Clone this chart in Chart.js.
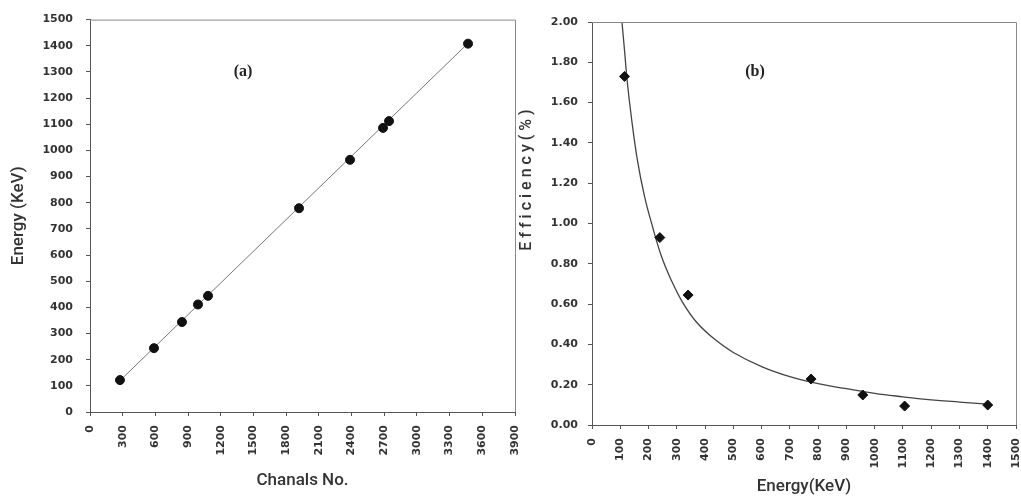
<!DOCTYPE html>
<html><head><meta charset="utf-8">
<script src="https://cdn.jsdelivr.net/npm/chart.js@4.4.1/dist/chart.umd.min.js"></script>
<style>
html,body{margin:0;padding:0;background:#fff;overflow:hidden;width:1021px;height:499px;}
#wa{position:absolute;left:0;top:0;width:530px;height:499px;}
#wb{position:absolute;left:510px;top:0;width:512px;height:499px;}
</style></head><body>
<div id="wa"><canvas id="ca"></canvas></div>
<div id="wb"><canvas id="cb"></canvas></div>
<script>
// ---- data (a): calibration ----
const chanals   = [275, 587, 844, 991, 1083, 1918, 2386, 2689, 2744, 3469];
const energiesA = [122, 244, 344, 411, 444, 779, 964, 1086, 1112, 1408];
const fitA_x = [270, 3470];
const fitA_y = [118, 1410];
// ---- data (b): efficiency ----
const energiesB  = [115, 240, 340, 775, 958, 1106, 1400];
const efficiency = [1.73, 0.93, 0.645, 0.228, 0.149, 0.094, 0.099];
const curveB_x = [106, 115, 125, 140, 160, 185, 213, 245, 280, 320, 370, 430, 500, 600, 700, 800, 900, 1000, 1100, 1200, 1300, 1400];
const curveB_y = [2.00, 1.86, 1.70, 1.52, 1.32, 1.14, 0.99, 0.84, 0.72, 0.61, 0.51, 0.43, 0.36, 0.29, 0.24, 0.205, 0.18, 0.157, 0.14, 0.125, 0.114, 0.104];
// ---- ticks ----
const xTicksA = [0,300,600,900,1200,1500,1800,2100,2400,2700,3000,3300,3600,3900];
const yTicksA = [0,100,200,300,400,500,600,700,800,900,1000,1100,1200,1300,1400,1500];
const xTicksB = [0,100,200,300,400,500,600,700,800,900,1000,1100,1200,1300,1400,1500];
const yTicksB = [0,0.2,0.4,0.6,0.8,1.0,1.2,1.4,1.6,1.8,2.0];
const yTickLabelsB = ['0.00','0.20','0.40','0.60','0.80','1.00','1.20','1.40','1.60','1.80','2.00'];

const tickFont = {family:'DejaVu Sans', size:11, weight:'bold'};
const titleFont = {family:'Roboto', size:17, weight:'500'};
const axisCol = '#555';
const textCol = '#333';

function pts(xs, ys){ return xs.map((x,i)=>({x:x, y:ys[i]})); }
function fixTicks(arr){ return s => { s.ticks = arr.map(v=>({value:v})); }; }
const plain = v => String(v);

const frame = {
  id:'frame',
  afterDraw(chart, args, opts){
    const {ctx, chartArea:a} = chart;
    ctx.save();
    ctx.strokeStyle = '#888'; ctx.lineWidth = 1;
    ctx.beginPath();
    ctx.moveTo(a.left, a.top+0.5); ctx.lineTo(a.right+0.5, a.top+0.5); ctx.lineTo(a.right+0.5, a.bottom);
    ctx.stroke();
    ctx.fillStyle = '#222';
    ctx.font = 'bold 16px "Liberation Serif"';
    ctx.textAlign = 'center'; ctx.textBaseline = 'middle';
    ctx.fillText(opts.label, opts.lx, opts.ly);
    if (opts.ytitle){
      ctx.translate(opts.tx, opts.ty);
      ctx.rotate(-Math.PI/2);
      ctx.font = '500 16px Roboto';
      ctx.fillStyle = textCol;
      try { ctx.letterSpacing = '4px'; } catch(e){}
      ctx.fillText(opts.ytitle, 0, 0);
    }
    ctx.restore();
  }
};

Chart.defaults.animation = false;

new Chart(document.getElementById('ca'), {
  type:'scatter',
  data:{datasets:[
    {data: pts(fitA_x, fitA_y), showLine:true, borderColor:'#777', borderWidth:1, pointRadius:0, order:2},
    {data: pts(chanals, energiesA), pointRadius:4.5, pointStyle:'circle', backgroundColor:'#111', borderColor:'#111', order:1}
  ]},
  options:{
    responsive:true, maintainAspectRatio:false,
    layout:{padding:{top:19, right:15, left:0, bottom:0}},
    plugins:{legend:{display:false}, tooltip:{enabled:false}, frame:{label:'(a)', lx:243, ly:72}},
    scales:{
      x:{type:'linear', min:0, max:3900, afterBuildTicks: fixTicks(xTicksA),
         afterFit: s => { s.height = 87; s.paddingRight = 0; s.paddingLeft = 0; },
         grid:{drawOnChartArea:false, color:axisCol, tickLength:4},
         border:{color:axisCol},
         ticks:{font:tickFont, color:textCol, maxRotation:90, minRotation:90, padding:9, autoSkip:false, callback:plain},
         title:{display:true, text:'Chanals No.', font:titleFont, color:textCol, padding:{top:0,bottom:8}}},
      y:{type:'linear', min:0, max:1500, afterBuildTicks: fixTicks(yTicksA),
         afterFit: s => { s.width = 90; },
         grid:{drawOnChartArea:false, color:axisCol, tickLength:4},
         border:{color:axisCol},
         ticks:{font:tickFont, color:textCol, padding:13, autoSkip:false, callback:plain},
         title:{display:true, text:'Energy (KeV)', font:titleFont, color:textCol, padding:{top:9,bottom:0}}}
    }
  },
  plugins:[frame]
});

new Chart(document.getElementById('cb'), {
  type:'scatter',
  data:{datasets:[
    {data: pts(curveB_x, curveB_y), showLine:true, borderColor:'#444', borderWidth:1.3, pointRadius:0, tension:0.4, order:2},
    {data: pts(energiesB, efficiency), pointRadius:5, pointStyle:'rectRot', backgroundColor:'#111', borderColor:'#111', order:1}
  ]},
  options:{
    responsive:true, maintainAspectRatio:false,
    layout:{padding:{top:22, right:6, left:0, bottom:0}},
    plugins:{legend:{display:false}, tooltip:{enabled:false}, frame:{label:'(b)', lx:245, ly:72, ytitle:'Efficiency(%)', tx:17, ty:178}},
    scales:{
      x:{type:'linear', min:0, max:1500, afterBuildTicks: fixTicks(xTicksB),
         afterFit: s => { s.height = 74; s.paddingRight = 0; s.paddingLeft = 0; },
         grid:{drawOnChartArea:false, color:axisCol, tickLength:4},
         border:{color:axisCol},
         ticks:{font:tickFont, color:textCol, maxRotation:90, minRotation:90, padding:9, autoSkip:false, callback:plain},
         title:{display:true, text:'Energy(KeV)', font:titleFont, color:textCol, padding:{top:0,bottom:2}}},
      y:{type:'linear', min:0, max:2, afterBuildTicks: fixTicks(yTicksB),
         afterFit: s => { s.width = 82; },
         grid:{drawOnChartArea:false, color:axisCol, tickLength:4},
         border:{color:axisCol},
         ticks:{font:tickFont, color:textCol, padding:10, autoSkip:false,
                callback:(v)=>{ const i = yTicksB.findIndex(t=>Math.abs(t-v)<1e-9); return i>=0 ? yTickLabelsB[i] : ''; }},
         title:{display:false}}
    }
  },
  plugins:[frame]
});
</script>
</body></html>
